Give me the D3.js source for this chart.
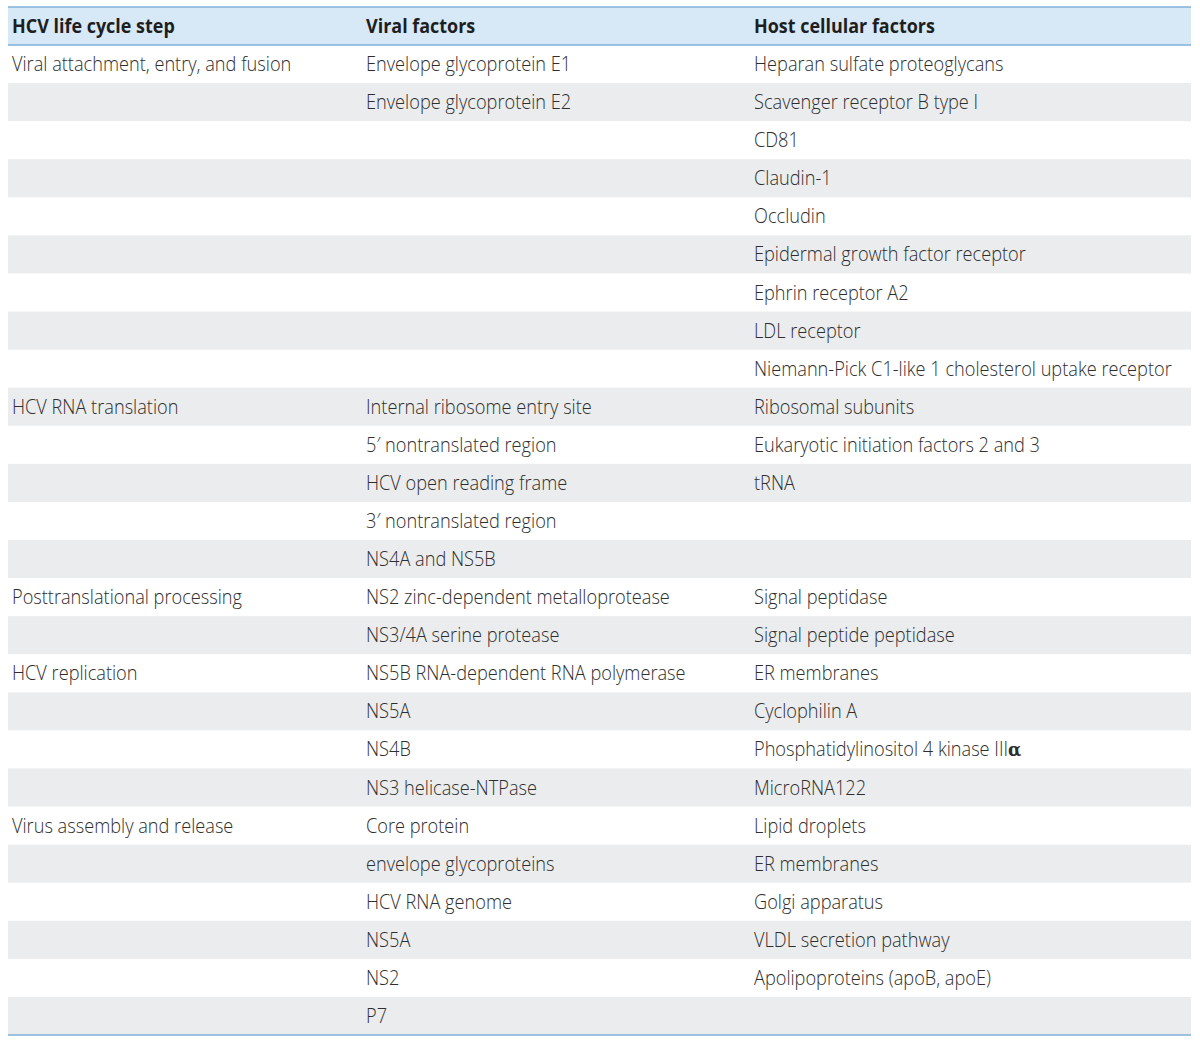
<!DOCTYPE html>
<html><head><meta charset="utf-8">
<script src="https://cdn.jsdelivr.net/npm/d3@7"></script>
<style>body{margin:0;background:#fff}</style>
</head><body>
<svg id="chart" width="1200" height="1043"></svg>
<script>
const headers = ["HCV life cycle step", "Viral factors", "Host cellular factors"];
const lifeCycleStep = [
  "Viral attachment, entry, and fusion","","","","","","","","",
  "HCV RNA translation","","","","",
  "Posttranslational processing","",
  "HCV replication","","","",
  "Virus assembly and release","","","","",""
];
const viralFactors = [
  "Envelope glycoprotein E1","Envelope glycoprotein E2","","","","","","","",
  "Internal ribosome entry site","5\u2032 nontranslated region","HCV open reading frame","3\u2032 nontranslated region","NS4A and NS5B",
  "NS2 zinc-dependent metalloprotease","NS3/4A serine protease",
  "NS5B RNA-dependent RNA polymerase","NS5A","NS4B","NS3 helicase-NTPase",
  "Core protein","envelope glycoproteins","HCV RNA genome","NS5A","NS2","P7"
];
const hostFactors = [
  "Heparan sulfate proteoglycans","Scavenger receptor B type I","CD81","Claudin-1","Occludin","Epidermal growth factor receptor","Ephrin receptor A2","LDL receptor","Niemann-Pick C1-like 1 cholesterol uptake receptor",
  "Ribosomal subunits","Eukaryotic initiation factors 2 and 3","tRNA","","",
  "Signal peptidase","Signal peptide peptidase",
  "ER membranes","Cyclophilin A","Phosphatidylinositol 4 kinase III\u03b1","MicroRNA122",
  "Lipid droplets","ER membranes","Golgi apparatus","VLDL secretion pathway","Apolipoproteins (apoB, apoE)",""
];

(function(){
const svg = d3.select("#chart");
const x0 = 8, x1 = 1191, yTop = 7, headerH = 38, yBot = 1035;
const colX = [12, 366, 754];
const n = lifeCycleStep.length;
const rows = d3.range(n);
const y = d3.scaleBand().domain(rows).range([yTop + headerH, yBot]);
const font = "'Open Sans', sans-serif";
const fs = 19.5;

const probe = svg.append("text").attr("font-family", font).attr("font-size", fs).attr("font-weight", 300).text("Niemann-Pick C1-like 1 cholesterol uptake receptor");
const sx = 418 / probe.node().getComputedTextLength();
probe.remove();
const probeB = svg.append("text").attr("font-family", font).attr("font-size", fs).attr("font-weight", 700).text("Host cellular factors");
const sxB = 181 / probeB.node().getComputedTextLength();
probeB.remove();

svg.append("rect").attr("x", x0).attr("y", yTop).attr("width", x1-x0).attr("height", headerH).attr("fill", "#d7e8f6");
svg.selectAll("rect.stripe").data(rows.filter(i => i % 2 === 1)).join("rect")
  .attr("class","stripe").attr("x", x0).attr("y", d => y(d)).attr("width", x1-x0).attr("height", y.bandwidth())
  .attr("fill", "#ebeced");
[yTop, yTop+headerH, yBot].forEach(v => {
  svg.append("line").attr("x1", x0).attr("x2", x1).attr("y1", v).attr("y2", v)
    .attr("stroke", "#7fb1da").attr("stroke-width", 1.5);
});

svg.selectAll("text.h").data(headers).join("text").attr("class","h")
  .attr("transform", (d,i) => `translate(${colX[i]},${yTop+headerH/2+7}) scale(${sxB},1)`)
  .attr("font-family", font).attr("font-size", fs).attr("font-weight", 700).attr("fill", "#1e1e1e").text(d => d);

const cols = [lifeCycleStep, viralFactors, hostFactors];
cols.forEach((arr, ci) => {
  svg.selectAll("text.c"+ci).data(arr.map((t,i)=>({t,i})).filter(d => d.t)).join("text").attr("class","c"+ci)
    .attr("transform", d => `translate(${colX[ci]},${y(d.i)+y.bandwidth()/2+7}) scale(${sx},1)`)
    .attr("font-family", font).attr("font-size", fs).attr("font-weight", 300).attr("fill", "#2e2e2e")
    .each(function(d){
      const el = d3.select(this);
      const m = d.t.match(/^(.*)(\u03b1)$/);
      if (m) {
        el.append("tspan").text(m[1]);
        el.append("tspan").attr("font-weight", 700).attr("font-family", "'DejaVu Serif', serif").attr("font-size", fs*0.95).text(m[2]);
      } else el.text(d.t);
    });
});
})();
</script>
</body></html>
